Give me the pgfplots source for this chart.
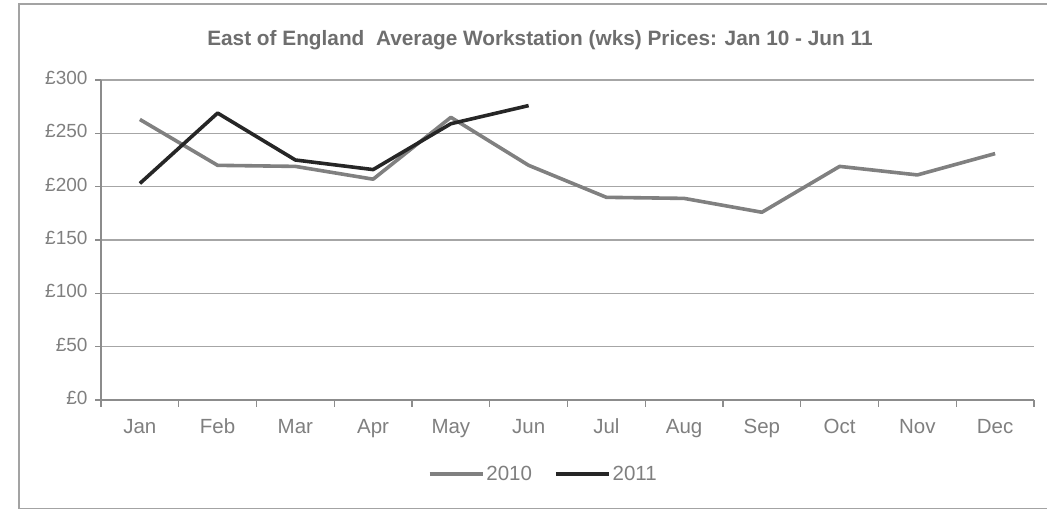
\documentclass[border=0pt]{standalone}
\usepackage{fontspec}
\setmainfont{Liberation Sans}
\usepackage{pgfplots}
\pgfplotsset{compat=1.18}
\definecolor{gridc}{HTML}{A6A6A6}
\definecolor{axc}{HTML}{8C8C8C}
\definecolor{txt}{HTML}{7F7F7F}
\definecolor{ttl}{HTML}{6E6E6E}
\definecolor{ca}{HTML}{808080}
\definecolor{cb}{HTML}{262626}
\begin{document}
\begin{tikzpicture}[x=1pt,y=1pt]
\useasboundingbox (0,0) rectangle (1047,510);
\draw[axc!80, line width=1.5pt] (19,506) rectangle (1070,1.5);
\begin{axis}[
  at={(101pt,110pt)}, anchor=south west,
  width=933pt, height=320pt, scale only axis,
  xmin=0.5, xmax=12.5, ymin=0, ymax=300,
  axis x line*=bottom, axis y line*=left,
  axis line style={axc, line width=1.2pt},
  xtick={1,...,12},
  xticklabels={Jan,Feb,Mar,Apr,May,Jun,Jul,Aug,Sep,Oct,Nov,Dec},
  major x tick style={draw=none},
  minor xtick={0.5,1.5,...,12.5},
  ytick={0,50,...,300},
  yticklabels={£0,£50,£100,£150,£200,£250,£300},
  tick align=outside,
  major tick length=6pt, minor tick length=7pt,
  tick style={axc, line width=1.2pt},
  ymajorgrids=true,
  major grid style={gridc, line width=1.2pt},
  typeset ticklabels with strut,
  tick label style={text=txt},
  yticklabel style={font=\fontsize{19}{22}\selectfont, xshift=-4pt},
  xticklabel style={font=\fontsize{20.5}{24}\selectfont, yshift=-7pt},
  legend style={at={(0.474,-0.231)}, anchor=center, draw=none, fill=none,
    font=\fontsize{20.5}{24}\selectfont, text=txt,
    legend columns=2,
    /tikz/every even column/.append style={column sep=20pt}},
  legend image code/.code={\draw[#1] (0pt,0pt) -- (53pt,0pt);},
]
\addplot[ca, line width=3.6pt, line join=round] coordinates {
(1,263) (2,220) (3,219) (4,207) (5,265) (6,220) (7,190) (8,189) (9,176) (10,219) (11,211) (12,231)};
\addlegendentry{2010}
\addplot[cb, line width=3.6pt, line join=round] coordinates {
(1,203) (2,269) (3,225) (4,216) (5,259) (6,276)};
\addlegendentry{2011}
\end{axis}
\node[font=\bfseries\fontsize{20.8}{24}\selectfont, text=ttl] at (540,470) {East of England~ Average Workstation (wks) Prices: Jan 10 - Jun 11};
\end{tikzpicture}
\end{document}
